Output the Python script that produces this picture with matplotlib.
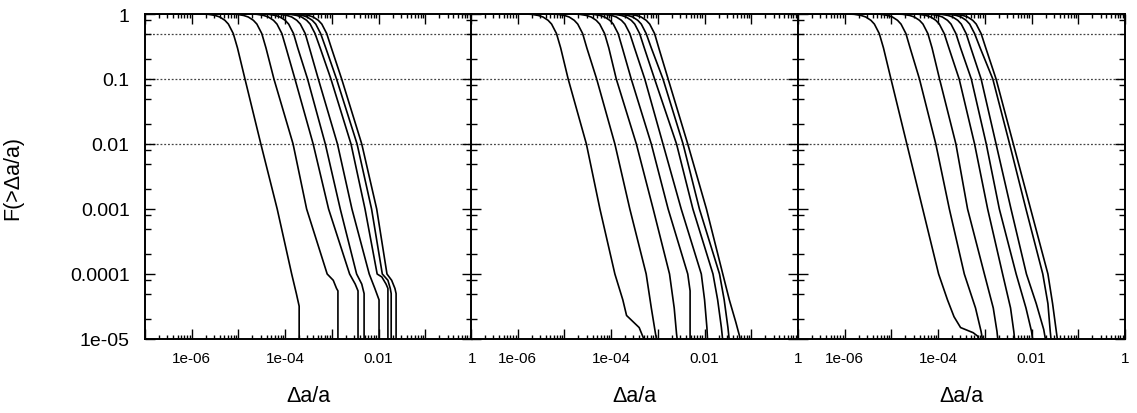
import numpy as np
import matplotlib.pyplot as plt
from matplotlib.ticker import LogLocator, FuncFormatter, NullFormatter

plt.rcParams['font.family'] = ['Liberation Sans', 'DejaVu Sans']

# Niveles de F comunes (el primero corresponde a x = 1e-7)
F_body = [1.0, 0.999, 0.99, 0.95, 0.9, 0.8, 0.7, 0.5, 0.3, 0.1, 0.01, 0.001, 0.0001]

# log10(Δa/a) de cada curva en esos niveles
p1_logx = [
    [-7, -5.78, -5.65, -5.50, -5.40, -5.29, -5.215, -5.11, -5.02, -4.86, -4.52, -4.17, -3.86],
    [-7, -5.17, -5.04, -4.89, -4.79, -4.68, -4.605, -4.50, -4.41, -4.24, -3.83, -3.54, -3.10],
    [-7, -4.74, -4.61, -4.46, -4.36, -4.25, -4.175, -4.07, -3.98, -3.79, -3.40, -3.07, -2.62],
    [-7, -4.49, -4.36, -4.21, -4.11, -4.00, -3.925, -3.82, -3.73, -3.52, -3.14, -2.82, -2.47],
    [-7, -4.24, -4.11, -3.96, -3.86, -3.75, -3.675, -3.57, -3.48, -3.29, -2.88, -2.57, -2.20],
    [-7, -4.03, -3.90, -3.75, -3.65, -3.54, -3.465, -3.36, -3.25, -3.02, -2.59, -2.29, -2.03],
    [-7, -3.91, -3.78, -3.63, -3.53, -3.42, -3.345, -3.24, -3.13, -2.90, -2.46, -2.15, -1.92],
    [-7, -3.78, -3.65, -3.50, -3.40, -3.29, -3.215, -3.11, -3.01, -2.79, -2.36, -2.04, -1.82],
]
p1_tail_logx = [
    [-3.76, -3.70, -3.70],
    [-2.97, -2.90, -2.87, -2.87],
    [-2.50, -2.44, -2.44],
    [-2.36, -2.31, -2.31],
    [-2.08, -1.99, -1.99],
    [-1.93, -1.84, -1.80, -1.80],
    [-1.80, -1.75, -1.73, -1.73],
    [-1.72, -1.65, -1.625, -1.625],
]
p1_tail_F = [
    [5e-5, 3.2e-5, 0],
    [8e-5, 6e-5, 5.5e-5, 0],
    [7e-5, 5.5e-5, 0],
    [7e-5, 5e-5, 0],
    [6e-5, 4e-5, 0],
    [9e-5, 7e-5, 6e-5, 0],
    [8e-5, 6e-5, 5e-5, 0],
    [8e-5, 6e-5, 5e-5, 0],
]

p2_logx = [
    [-7, -5.84, -5.71, -5.56, -5.46, -5.35, -5.275, -5.17, -5.08, -4.92, -4.53, -4.24, -3.92],
    [-7, -5.28, -5.15, -5.00, -4.90, -4.79, -4.715, -4.61, -4.52, -4.31, -3.92, -3.60, -3.25],
    [-7, -4.81, -4.68, -4.53, -4.43, -4.32, -4.245, -4.14, -4.05, -3.89, -3.46, -3.10, -2.75],
    [-7, -4.52, -4.39, -4.24, -4.14, -4.03, -3.955, -3.85, -3.76, -3.57, -3.14, -2.78, -2.36],
    [-7, -4.27, -4.14, -3.99, -3.89, -3.78, -3.705, -3.60, -3.50, -3.28, -2.89, -2.50, -2.07],
    [-7, -4.06, -3.93, -3.78, -3.68, -3.57, -3.495, -3.39, -3.29, -3.07, -2.60, -2.25, -1.82],
    [-7, -3.92, -3.79, -3.64, -3.54, -3.43, -3.355, -3.25, -3.14, -2.89, -2.46, -2.11, -1.68],
    [-7, -3.74, -3.61, -3.46, -3.36, -3.25, -3.175, -3.07, -2.98, -2.78, -2.36, -1.96, -1.61],
]
p2_tail_logx = [
    [-3.75, -3.67, -3.40, -3.30, -3.27],
    [-3.14, -3.05, -3.00],
    [-2.65, -2.60, -2.57],
    [-2.31, -2.30],
    [-2.00, -1.95, -1.93],
    [-1.72, -1.64, -1.60],
    [-1.58, -1.50, -1.46],
    [-1.47, -1.33, -1.25, -1.22],
]
p2_tail_F = [
    [4e-5, 2.3e-5, 1.5e-5, 1e-5, 8e-6],
    [3e-5, 1.2e-5, 8e-6],
    [3e-5, 1.2e-5, 8e-6],
    [5.5e-5, 0],
    [4e-5, 1.5e-5, 8e-6],
    [4e-5, 1.5e-5, 8e-6],
    [4e-5, 1.5e-5, 8e-6],
    [4e-5, 1.8e-5, 1.1e-5, 8e-6],
]

p3_logx = [
    [-7, -5.93, -5.80, -5.65, -5.55, -5.44, -5.365, -5.26, -5.17, -5.01, -4.67, -4.33, -3.99],
    [-7, -5.36, -5.23, -5.08, -4.98, -4.87, -4.795, -4.69, -4.60, -4.40, -4.05, -3.76, -3.44],
    [-7, -4.89, -4.76, -4.61, -4.51, -4.40, -4.325, -4.22, -4.13, -3.97, -3.62, -3.37, -3.01],
    [-7, -4.54, -4.41, -4.26, -4.16, -4.05, -3.975, -3.87, -3.77, -3.55, -3.22, -2.94, -2.62],
    [-7, -4.29, -4.16, -4.01, -3.91, -3.80, -3.725, -3.62, -3.52, -3.29, -2.97, -2.69, -2.33],
    [-7, -4.07, -3.94, -3.79, -3.69, -3.58, -3.505, -3.40, -3.30, -3.08, -2.76, -2.44, -2.11],
    [-7, -3.89, -3.76, -3.61, -3.51, -3.40, -3.325, -3.22, -3.10, -2.83, -2.47, -2.12, -1.76],
    [-7, -3.75, -3.62, -3.47, -3.37, -3.26, -3.185, -3.08, -2.98, -2.76, -2.39, -2.02, -1.65],
]
p3_tail_logx = [
    [-3.80, -3.66, -3.52, -3.25, -3.15, -3.12],
    [-3.20, -3.08, -3.03],
    [-2.82, -2.74, -2.71],
    [-2.45, -2.38, -2.35],
    [-2.12, -2.00, -1.96],
    [-1.90, -1.74, -1.68],
    [-1.65, -1.60, -1.57],
    [-1.55, -1.47, -1.43],
]
p3_tail_F = [
    [4e-5, 2.2e-5, 1.5e-5, 1.25e-5, 1.1e-5, 8e-6],
    [3e-5, 1.3e-5, 8e-6],
    [3e-5, 1.3e-5, 8e-6],
    [3e-5, 1.3e-5, 8e-6],
    [3e-5, 1.3e-5, 8e-6],
    [3.5e-5, 1.4e-5, 8e-6],
    [3.5e-5, 1.3e-5, 8e-6],
    [3.5e-5, 1.3e-5, 8e-6],
]

# Lineas de referencia y etiquetas de ejes
ref_levels = [0.5, 0.1, 0.01]
xtick_labels = {-6: '1e-06', -4: '1e-04', -2: '0.01', 0: '1'}
ytick_labels = {0: '1', -1: '0.1', -2: '0.01', -3: '0.001', -4: '0.0001', -5: '1e-05'}

panels = [
    (p1_logx, p1_tail_logx, p1_tail_F),
    (p2_logx, p2_tail_logx, p2_tail_F),
    (p3_logx, p3_tail_logx, p3_tail_F),
]

W, H = 1137, 414
fig = plt.figure(figsize=(W / 100, H / 100), dpi=100)
lefts = [145, 471, 798]
pw = 327
top, bottom = 15, 340


def fmt_x(v, pos):
    e = int(round(np.log10(v)))
    return xtick_labels.get(e, '')


def fmt_y(v, pos):
    e = int(round(np.log10(v)))
    return ytick_labels.get(e, '')


for i, (body, tail_x, tail_F) in enumerate(panels):
    ax = fig.add_axes([lefts[i] / W, 1 - bottom / H, pw / W, (bottom - top) / H])
    ax.set_xscale('log')
    ax.set_yscale('log', nonpositive='clip')

    for lev in ref_levels:
        ax.axhline(lev, color='#444444', lw=0.9, ls=(0, (1.5, 1.5)), zorder=1)

    for lx, tx, tf in zip(body, tail_x, tail_F):
        x = 10 ** np.array(lx + tx, dtype=float)
        y = np.array(F_body + tf, dtype=float)
        ax.plot(x, y, color='black', lw=1.2, zorder=2)

    ax.set_xlim(1e-7, 1)
    ax.set_ylim(1e-5, 1)

    ax.xaxis.set_major_locator(LogLocator(base=10, numticks=20))
    ax.xaxis.set_minor_locator(LogLocator(base=10, subs=np.arange(2, 10), numticks=20))
    ax.xaxis.set_major_formatter(FuncFormatter(fmt_x))
    ax.xaxis.set_minor_formatter(NullFormatter())

    ax.yaxis.set_major_locator(LogLocator(base=10, numticks=20))
    ax.yaxis.set_minor_locator(LogLocator(base=10, subs=[2, 5, 8], numticks=20))
    if i == 0:
        ax.yaxis.set_major_formatter(FuncFormatter(fmt_y))
    else:
        ax.yaxis.set_major_formatter(NullFormatter())
    ax.yaxis.set_minor_formatter(NullFormatter())

    ax.tick_params(which='both', direction='in', top=True, right=True, width=1.0)
    ax.tick_params(which='major', length=7)
    ax.tick_params(axis='x', which='minor', length=3)
    ax.tick_params(axis='y', which='minor', length=4.5)
    ax.tick_params(axis='x', which='major', labelsize=11, pad=9)
    ax.tick_params(axis='y', which='major', labelsize=14, pad=11)
    for s in ax.spines.values():
        s.set_linewidth(1.4)

    fig.text((lefts[i] + pw / 2) / W, 1 - 397 / H, 'Δa/a', fontsize=15.5,
             ha='center', va='center')

fig.text(13 / W, 1 - 178 / H, 'F(>Δa/a)', fontsize=15.5, rotation=90,
         ha='center', va='center')

fig.savefig('out.png', dpi=100)
